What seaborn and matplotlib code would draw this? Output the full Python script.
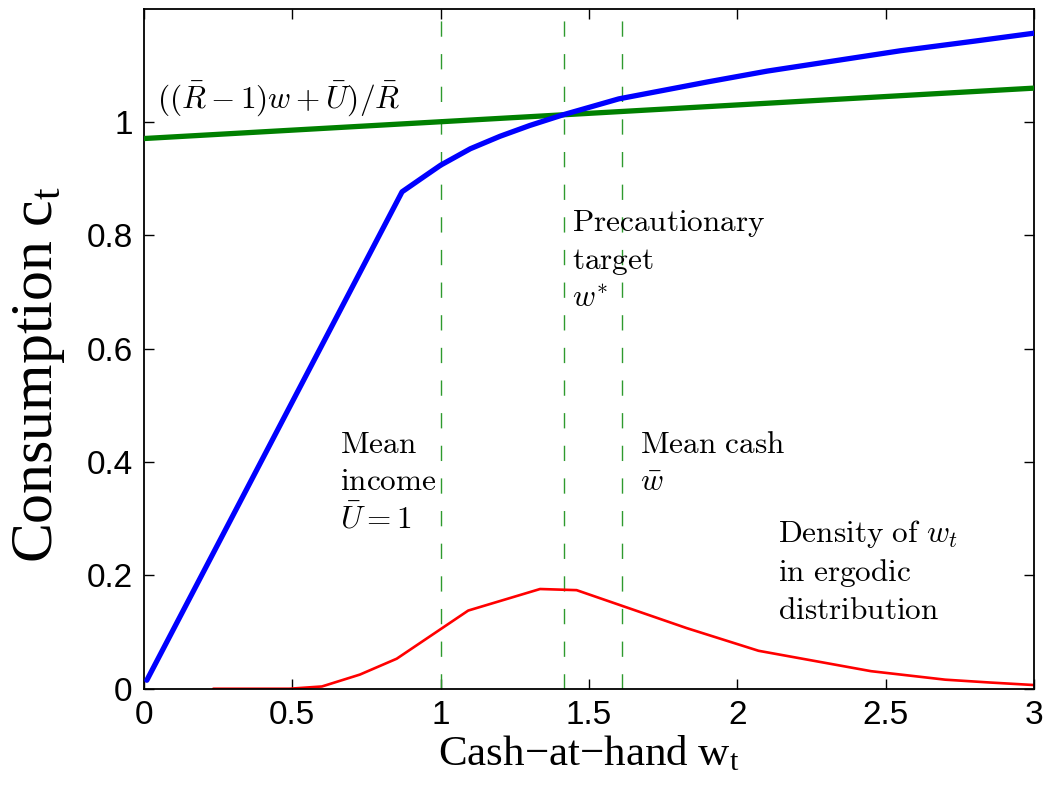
import numpy as np
import pandas as pd
import matplotlib
matplotlib.use("Agg")
import matplotlib.pyplot as plt
import seaborn as sns

# ---- data ----
cons_w = [0.01, 0.87, 0.95, 1.0, 1.1, 1.2, 1.3, 1.413, 1.5, 1.6, 1.75, 1.9, 2.1, 2.3, 2.55, 2.8, 3.0]
cons_c = [0.015, 0.877, 0.906, 0.924, 0.953, 0.975, 0.994, 1.013, 1.026, 1.041, 1.056, 1.071,
          1.090, 1.106, 1.126, 1.143, 1.157]

line45_w = [0.0, 3.0]
line45_c = [0.971, 1.060]

dens_w = [0.234, 0.49, 0.6, 0.728, 0.852, 1.093, 1.335, 1.458, 1.829, 2.071, 2.45, 2.70, 2.85, 3.0]
dens_c = [0.0, 0.0, 0.004, 0.025, 0.053, 0.138, 0.176, 0.174, 0.107, 0.067, 0.031, 0.016, 0.011, 0.0065]

vlines_w = [1.0, 1.415, 1.61]

xticks = [0, 0.5, 1, 1.5, 2, 2.5, 3]
xticklabels = ["0", "0.5", "1", "1.5", "2", "2.5", "3"]
yticks = [0, 0.2, 0.4, 0.6, 0.8, 1.0]
yticklabels = ["0", "0.2", "0.4", "0.6", "0.8", "1"]

sns.set_style("ticks")
plt.rcParams["font.family"] = ["Liberation Sans", "DejaVu Sans"]
plt.rcParams["mathtext.fontset"] = "cm"
plt.rcParams["text.color"] = "black"
plt.rcParams["axes.labelcolor"] = "black"

fig = plt.figure(figsize=(10.5, 7.99), dpi=100)
ax = fig.add_axes([0.137, 0.138, 0.848, 0.851])

for xv in vlines_w:
    ax.axvline(xv, color="#2e9a2e", lw=1.0, dashes=(11, 12.5), zorder=1)

sns.lineplot(x=line45_w, y=line45_c, ax=ax, color="#008000", lw=3.8, sort=False, estimator=None, zorder=3)
sns.lineplot(x=cons_w, y=cons_c, ax=ax, color="#0000ff", lw=3.8, sort=False, estimator=None, zorder=4)
sns.lineplot(x=dens_w, y=dens_c, ax=ax, color="#ff0000", lw=1.9, sort=False, estimator=None, zorder=2)

ax.set_xlim(0, 3)
ax.set_ylim(0, 1.2)
ax.set_xticks(xticks)
ax.set_xticklabels(xticklabels)
ax.set_yticks(yticks)
ax.set_yticklabels(yticklabels)
ax.tick_params(direction="in", length=7, width=1.0, labelsize=24, top=True, right=True,
               colors="black", pad=8)
for sp in ax.spines.values():
    sp.set_visible(True)
    sp.set_linewidth(1.3)
    sp.set_color("black")

ax.set_xlabel("Cash\u2212at\u2212hand w$\\mathregular{_t}$", fontsize=31, family="Liberation Serif", labelpad=3)
ax.set_ylabel("Consumption c$\\mathregular{_t}$", fontsize=43, family="Liberation Serif")
ax.yaxis.set_label_coords(-0.086, 0.462)

tfs = 22.5
ls = 1.3
ax.text(0.044, 1.008, r"$((\bar{R}-1)w+\bar{U})/\bar{R}$", fontsize=tfs, ha="left", va="bottom")
ax.text(1.443, 0.848, "$\\mathrm{Precautionary}$\n$\\mathrm{target}$\n$w^{*}$", fontsize=tfs,
        ha="left", va="top", linespacing=ls)
ax.text(0.66, 0.457, "$\\mathrm{Mean}$\n$\\mathrm{income}$\n$\\bar{U}=1$", fontsize=tfs,
        ha="left", va="top", linespacing=ls)
ax.text(1.672, 0.457, "$\\mathrm{Mean\\ cash}$\n$\\bar{w}$", fontsize=tfs,
        ha="left", va="top", linespacing=ls)
ax.text(2.137, 0.302, "$\\mathrm{Density\\ of}\\ w_t$\n$\\mathrm{in\\ ergodic}$\n$\\mathrm{distribution}$",
        fontsize=tfs, ha="left", va="top", linespacing=ls)

fig.savefig("out.png", dpi=100, facecolor="white")
